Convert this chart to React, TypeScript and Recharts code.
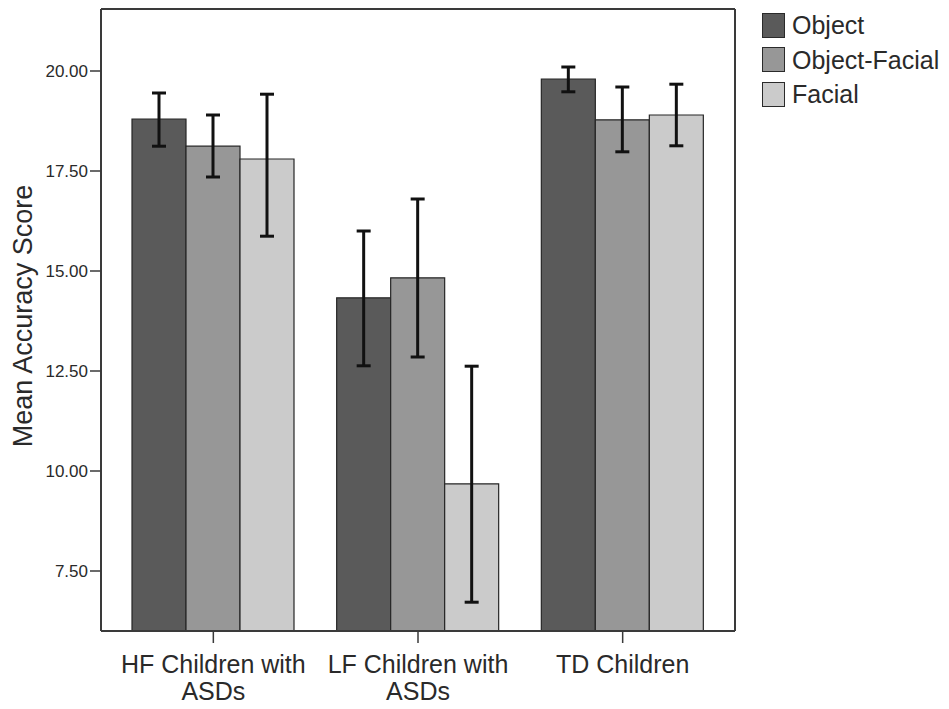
import React from 'react';
import { BarChart, Bar, XAxis, YAxis, ErrorBar, Label } from 'recharts';

// groups on the x axis
const groups = ['HF Children with ASDs', 'LF Children with ASDs', 'TD Children'];
const groupLines = [
  ['HF Children with', 'ASDs'],
  ['LF Children with', 'ASDs'],
  ['TD Children'],
];

// means and error bar ends
const objectMean = [18.8, 14.33, 19.8];
const objectLow = [18.12, 12.63, 19.48];
const objectHigh = [19.45, 16.0, 20.1];

const objFacialMean = [18.12, 14.83, 18.78];
const objFacialLow = [17.35, 12.85, 17.98];
const objFacialHigh = [18.9, 16.8, 19.6];

const facialMean = [17.8, 9.68, 18.9];
const facialLow = [15.87, 6.72, 18.13];
const facialHigh = [19.42, 12.62, 19.67];

const yTicks = [7.5, 10, 12.5, 15, 17.5, 20];

const series = [
  { key: 'object', name: 'Object', color: '#5a5a5a' },
  { key: 'objFacial', name: 'Object-Facial', color: '#979797' },
  { key: 'facial', name: 'Facial', color: '#cbcbcb' },
];

const data = groups.map((g, i) => ({
  group: g,
  object: objectMean[i],
  objectErr: [objectMean[i] - objectLow[i], objectHigh[i] - objectMean[i]],
  objFacial: objFacialMean[i],
  objFacialErr: [objFacialMean[i] - objFacialLow[i], objFacialHigh[i] - objFacialMean[i]],
  facial: facialMean[i],
  facialErr: [facialMean[i] - facialLow[i], facialHigh[i] - facialMean[i]],
}));

const font = '"Liberation Sans", Arial, sans-serif';
const domain: [number, number] = [6, 21.55];
const frame = { stroke: '#3a3a3a', strokeWidth: 2 };

function GroupTick(props: any) {
  const { x, y, index } = props;
  const lines = groupLines[index] || [];
  return (
    <text x={x} y={y} textAnchor="middle" fontFamily={font} fontSize={25} fill="#2a2a2a">
      {lines.map((l, i) => (
        <tspan key={i} x={x} dy={i === 0 ? 28 : 27}>
          {l}
        </tspan>
      ))}
    </text>
  );
}

export default function App() {
  return (
    <div style={{ position: 'absolute', left: 0, top: 0, width: 949, height: 709, background: '#fff' }}>
      <BarChart
        width={949}
        height={709}
        data={data}
        margin={{ top: 8, right: 213, bottom: 8, left: 0 }}
        barCategoryGap={21}
        barGap={0}
      >
        <XAxis
          dataKey="group"
          height={70}
          padding={{ left: 10, right: 10 }}
          axisLine={frame}
          tickLine={{ stroke: '#3a3a3a', strokeWidth: 1.5 }}
          tickSize={12}
          tick={<GroupTick />}
          interval={0}
        />
        <XAxis
          xAxisId="top"
          orientation="top"
          dataKey="group"
          height={1}
          padding={{ left: 10, right: 10 }}
          axisLine={frame}
          tick={false}
          tickLine={false}
        />
        <YAxis
          width={101}
          domain={domain}
          ticks={yTicks}
          allowDataOverflow
          tickFormatter={(v: number) => v.toFixed(2)}
          axisLine={frame}
          tickLine={{ stroke: '#3a3a3a', strokeWidth: 1.5 }}
          tickSize={11}
          tick={{ fontFamily: font, fontSize: 17, fill: '#2a2a2a' }}
        >
          <Label
            content={() => (
              <text
                x={23}
                y={316}
                transform="rotate(-90 23 316)"
                textAnchor="middle"
                dominantBaseline="central"
                fontFamily={font}
                fontSize={27}
                fill="#2a2a2a"
              >
                Mean Accuracy Score
              </text>
            )}
          />
        </YAxis>
        <YAxis
          yAxisId="right"
          orientation="right"
          width={1}
          domain={domain}
          allowDataOverflow
          axisLine={frame}
          tick={false}
          tickLine={false}
        />
        {series.map((s) => (
          <Bar
            key={s.key}
            dataKey={s.key}
            name={s.name}
            fill={s.color}
            stroke="#262626"
            strokeWidth={1.2}
            isAnimationActive={false}
          >
            <ErrorBar
              dataKey={s.key + 'Err'}
              direction="y"
              width={7}
              stroke="#111"
              strokeWidth={3}
              isAnimationActive={false}
            />
          </Bar>
        ))}
      </BarChart>
      <div style={{ position: 'absolute', left: 762, top: 12, fontFamily: font }}>
        {series.map((s) => (
          <div key={s.key} style={{ display: 'flex', alignItems: 'center', height: 34.6 }}>
            <div
              style={{
                width: 21,
                height: 23,
                background: s.color,
                border: '1.5px solid #2a2a2a',
                marginBottom: 8,
              }}
            />
            <span style={{ fontSize: 25, color: '#2a2a2a', marginLeft: 7, marginBottom: 8, lineHeight: '26px' }}>
              {s.name}
            </span>
          </div>
        ))}
      </div>
    </div>
  );
}
